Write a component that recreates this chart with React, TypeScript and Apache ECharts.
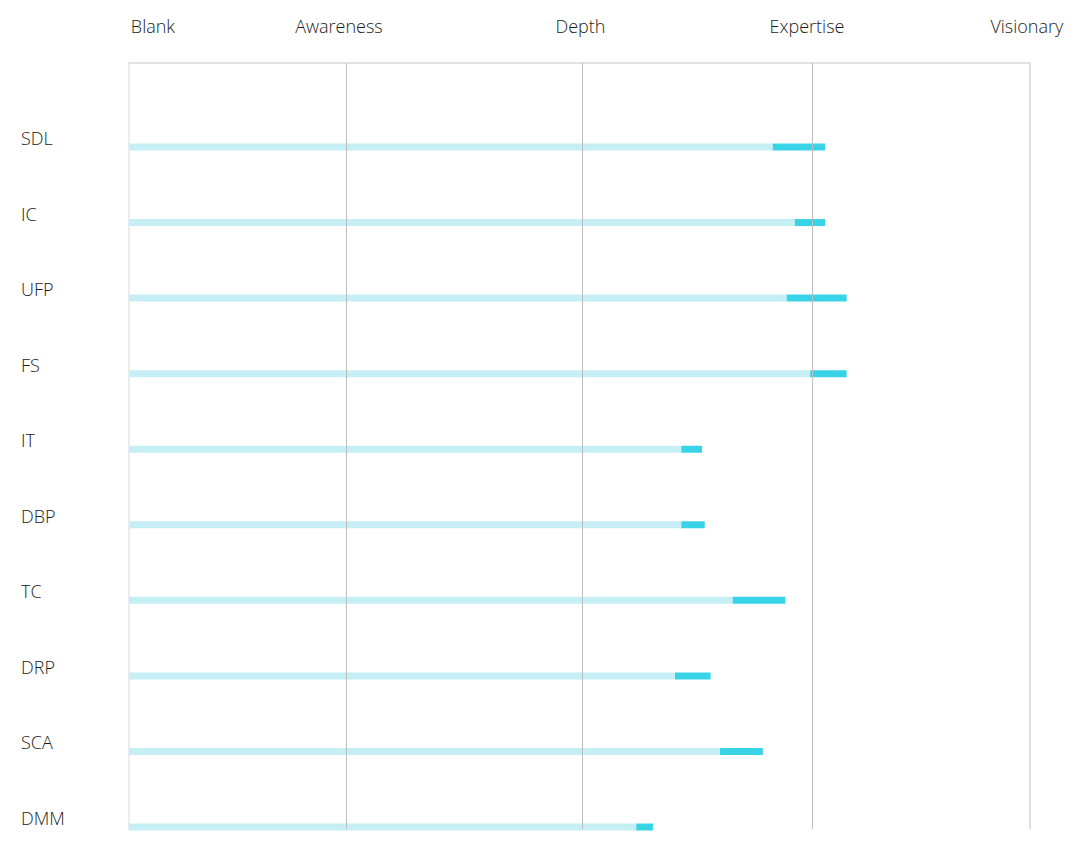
import React, { useEffect, useRef } from "react";
import * as echarts from "echarts";

const categories = ["SDL", "IC", "UFP", "FS", "IT", "DBP", "TC", "DRP", "SCA", "DMM"];
const baseValues = [71.45, 73.9, 73.0, 75.6, 61.3, 61.3, 67.0, 60.6, 65.6, 56.3];
const totalValues = [77.25, 77.25, 79.65, 79.65, 63.6, 63.9, 72.85, 64.55, 70.35, 58.15];
const gainValues = totalValues.map((t, i) => +(t - baseValues[i]).toFixed(2));
const levelLabels = ["Blank", "Awareness", "Depth", "Expertise", "Visionary"];
const levelLabelValues = [2.66, 23.3, 50.1, 75.25, 99.65];
const levelLineValues = [24.16, 50.28, 75.84];

const FONT = "'Open Sans', sans-serif";

export default function App() {
  const ref = useRef<HTMLDivElement>(null);
  useEffect(() => {
    if (!ref.current) return;
    const chart = echarts.init(ref.current, undefined, { renderer: "svg" });
    chart.setOption({
      animation: false,
      backgroundColor: "#ffffff",
      textStyle: { fontFamily: FONT },
      grid: [
        { left: 129, right: 56, top: 63, bottom: 21 },
        { left: 129, right: 56, top: 147, bottom: 23 },
      ],
      xAxis: [
        {
          gridIndex: 0,
          type: "value",
          min: 0,
          max: 100,
          position: "top",
          axisLine: { show: true, onZero: false, lineStyle: { color: "#e2e2e2", width: 2 } },
          axisTick: { show: false },
          splitLine: { show: false },
          axisLabel: {
            show: true,
            customValues: levelLabelValues,
            formatter: (v: number) => {
              const i = levelLabelValues.indexOf(v);
              return i >= 0 ? levelLabels[i] : "";
            },
            fontSize: 18,
            fontWeight: 300,
            color: "#1c1c1c",
            fontFamily: FONT,
            margin: 28,
            hideOverlap: false,
          },
        },
        {
          gridIndex: 1,
          type: "value",
          min: 0,
          max: 100,
          show: false,
        },
      ],
      yAxis: [
        {
          gridIndex: 0,
          type: "value",
          min: 0,
          max: 1,
          axisLine: { show: true, onZero: false, lineStyle: { color: "#e6e6e6", width: 1.5 } },
          axisTick: { show: false },
          axisLabel: { show: false },
          splitLine: { show: false },
        },
        {
          gridIndex: 1,
          type: "category",
          inverse: true,
          boundaryGap: false,
          data: categories,
          axisLine: { show: false },
          axisTick: { show: false },
          splitLine: { show: false },
          axisLabel: {
            align: "left",
            verticalAlign: "bottom",
            margin: 108,
            fontSize: 18,
            fontWeight: 300,
            color: "#1c1c1c",
            fontFamily: FONT,
            interval: 0,
          },
        },
      ],
      series: [
        {
          type: "line",
          xAxisIndex: 0,
          yAxisIndex: 0,
          data: [[0, 0]],
          symbol: "none",
          silent: true,
          markLine: {
            silent: true,
            symbol: "none",
            label: { show: false },
            lineStyle: { color: "#bdbdbd", width: 1, type: "solid" },
            data: [
              ...levelLineValues.map((v) => ({ xAxis: v })),
              { xAxis: 100, lineStyle: { color: "#dedede", width: 2, type: "solid" } },
            ],
          },
        },
        {
          type: "bar",
          xAxisIndex: 1,
          yAxisIndex: 1,
          stack: "level",
          barWidth: 7,
          data: baseValues,
          itemStyle: { color: "#c6eef5" },
          silent: true,
        },
        {
          type: "bar",
          xAxisIndex: 1,
          yAxisIndex: 1,
          stack: "level",
          barWidth: 7,
          data: gainValues,
          itemStyle: { color: "#38d3e6" },
          silent: true,
        },
      ],
    });
    return () => chart.dispose();
  }, []);
  return (
    <div
      ref={ref}
      style={{ position: "absolute", left: 0, top: 0, width: 1086, height: 850 }}
    />
  );
}
